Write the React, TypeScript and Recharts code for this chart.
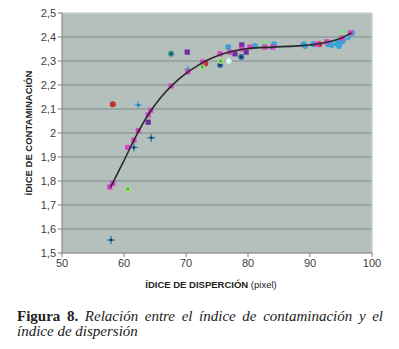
import { ScatterChart, Scatter, XAxis, YAxis, ZAxis, CartesianGrid, ReferenceLine } from 'recharts';

// x = índice de dispersión (pixel), y = índice de contaminación
const magentaPts = [
  { x: 57.7, y: 1.775 }, { x: 58.2, y: 1.79 }, { x: 60.6, y: 1.94 }, { x: 61.6, y: 1.97 },
  { x: 62.3, y: 2.01 }, { x: 63.9, y: 2.075 }, { x: 64.3, y: 2.095 }, { x: 67.6, y: 2.196 },
  { x: 70.3, y: 2.255 }, { x: 72.7, y: 2.296 }, { x: 75.5, y: 2.33 }, { x: 77.1, y: 2.337 },
  { x: 79.0, y: 2.35 }, { x: 80.3, y: 2.358 }, { x: 82.7, y: 2.358 }, { x: 84.0, y: 2.358 },
  { x: 91.1, y: 2.37 }, { x: 92.7, y: 2.38 }, { x: 95.2, y: 2.396 }, { x: 96.5, y: 2.417 },
];
const purplePts = [
  { x: 63.9, y: 2.045 }, { x: 70.2, y: 2.337 }, { x: 77.9, y: 2.33 }, { x: 79.0, y: 2.367 }, { x: 79.7, y: 2.337 },
];
const darkCrossPts = [{ x: 57.9, y: 1.554 }, { x: 61.6, y: 1.94 }, { x: 64.4, y: 1.98 }];
const lightCrossPts = [{ x: 62.3, y: 2.117 }, { x: 70.3, y: 2.265 }];
const tealDotPts = [{ x: 67.6, y: 2.33 }];
const navyDotPts = [{ x: 75.5, y: 2.283 }, { x: 78.9, y: 2.317 }];
const redDotPts = [{ x: 58.2, y: 2.12 }, { x: 73.1, y: 2.29 }, { x: 91.5, y: 2.37 }];
const greenDotPts = [{ x: 60.6, y: 1.767 }, { x: 72.6, y: 2.275 }, { x: 75.6, y: 2.3 }];
const cyanDiamondPts = [{ x: 76.9, y: 2.3 }];
const blueDotPts = [
  { x: 76.8, y: 2.358 }, { x: 81.1, y: 2.363 }, { x: 84.2, y: 2.37 }, { x: 89.0, y: 2.37 },
  { x: 89.2, y: 2.363 }, { x: 90.5, y: 2.37 }, { x: 92.9, y: 2.37 }, { x: 93.5, y: 2.367 },
  { x: 94.4, y: 2.375 }, { x: 94.5, y: 2.37 }, { x: 94.7, y: 2.362 }, { x: 95.0, y: 2.38 },
  { x: 95.3, y: 2.383 }, { x: 96.1, y: 2.4 }, { x: 96.8, y: 2.417 },
];
const greenSquarePts = [{ x: 82.6, y: 2.367 }, { x: 95.5, y: 2.413 }];

// trend curve
const trendPts = [
  { x: 57.8, y: 1.772 }, { x: 60, y: 1.885 }, { x: 62, y: 1.99 }, { x: 64, y: 2.08 },
  { x: 66, y: 2.15 }, { x: 68, y: 2.205 }, { x: 70, y: 2.248 }, { x: 72, y: 2.283 },
  { x: 74, y: 2.31 }, { x: 76, y: 2.33 }, { x: 78, y: 2.344 }, { x: 80, y: 2.352 },
  { x: 84, y: 2.358 }, { x: 88, y: 2.363 }, { x: 91, y: 2.37 }, { x: 93, y: 2.38 },
  { x: 95, y: 2.395 }, { x: 96.7, y: 2.417 },
];

const xTicks = [50, 60, 70, 80, 90, 100];
const yTicks = [1.5, 1.6, 1.7, 1.8, 1.9, 2, 2.1, 2.2, 2.3, 2.4, 2.5];

type Kind = 'square' | 'hollow' | 'circle' | 'cross' | 'diamond' | 'none';

function marker(kind: Kind, color: string, inner?: string) {
  return (p: any) => {
    const { cx, cy } = p;
    if (kind === 'none' || cx == null) return <g />;
    if (kind === 'square')
      return <rect x={cx - 2.6} y={cy - 2.6} width={5.2} height={5.2} fill={color} />;
    if (kind === 'hollow')
      return <rect x={cx - 3} y={cy - 3} width={6} height={6} fill="none" stroke={color} strokeWidth={1.5} />;
    if (kind === 'circle')
      return (
        <g>
          <circle cx={cx} cy={cy} r={3} fill={color} />
          {inner && <circle cx={cx} cy={cy} r={1.4} fill={inner} />}
        </g>
      );
    if (kind === 'diamond')
      return <path d={`M${cx},${cy - 3.5}L${cx + 3.5},${cy}L${cx},${cy + 3.5}L${cx - 3.5},${cy}Z`} fill={color} />;
    return (
      <g stroke={color} strokeWidth={1.3}>
        <line x1={cx - 4} y1={cy} x2={cx + 4} y2={cy} />
        <line x1={cx} y1={cy - 4} x2={cx} y2={cy + 4} />
        <circle cx={cx} cy={cy} r={1.5} fill={inner || color} stroke="none" />
      </g>
    );
  };
}

const tickStyle = { fontFamily: 'Liberation Sans, Arial, sans-serif', fontSize: 11, fill: '#404040' };
const titleStyle = { fontFamily: 'Liberation Sans, Arial, sans-serif', fontSize: 9.5, fontWeight: 700, fill: '#222' };
const captionFont = {
  fontFamily: '"Liberation Serif", "DejaVu Serif", serif',
  fontSize: 15,
  lineHeight: '15px',
  color: '#222',
};

export default function App() {
  return (
    <div style={{ position: 'absolute', left: 0, top: 0, width: 399, height: 349, background: '#fff' }}>
      <ScatterChart width={399} height={300} margin={{ top: 13, right: 27, bottom: 17, left: 22 }}>
        <CartesianGrid
          vertical={false}
          horizontalValues={yTicks.slice(1, -1)}
          fill="#b5c0bc"
          stroke="#7f8a87"
          strokeWidth={1.2}
        />
        <XAxis
          type="number"
          dataKey="x"
          domain={[50, 100]}
          ticks={xTicks}
          height={30}
          stroke="#7a7a7a"
          tickSize={4}
          tick={tickStyle}
          label={{
            content: (p: any) => (
              <text x={211} y={p.viewBox.y + 35} textAnchor="middle" {...titleStyle}>
                ÍDICE DE DISPERCIÓN <tspan fontWeight={400}>(pixel)</tspan>
              </text>
            ),
          }}
        />
        <YAxis
          type="number"
          dataKey="y"
          domain={[1.5, 2.5]}
          ticks={yTicks}
          width={40}
          stroke="#7a7a7a"
          tickSize={4}
          tick={tickStyle}
          tickFormatter={(v: number) => String(Math.round(v * 10) / 10).replace('.', ',')}
          label={{
            content: (p: any) => {
              const cy = p.viewBox.y + p.viewBox.height / 2;
              return (
                <text x={28} y={cy} transform={`rotate(-90 28 ${cy})`} textAnchor="middle" dominantBaseline="central" {...titleStyle}>
                  ÍDICE DE CONTAMINACIÓN
                </text>
              );
            },
          }}
        />
        <ZAxis range={[30, 30]} />
        <ReferenceLine y={2.5} stroke="#ccd3d0" strokeWidth={1.5} />
        <ReferenceLine x={100} stroke="#ccd3d0" strokeWidth={1.5} />
        <Scatter data={darkCrossPts} shape={marker('cross', '#2a7fa6', '#1b3f6b')} isAnimationActive={false} />
        <Scatter data={lightCrossPts} shape={marker('cross', '#3eb0e0', '#2a7fa6')} isAnimationActive={false} />
        <Scatter data={tealDotPts} shape={marker('circle', '#2f9a8e', '#1b3f6b')} isAnimationActive={false} />
        <Scatter data={navyDotPts} shape={marker('circle', '#2a6f9a', '#1b2f6b')} isAnimationActive={false} />
        <Scatter data={redDotPts} shape={marker('circle', '#c0302c')} isAnimationActive={false} />
        <Scatter data={greenDotPts} shape={marker('circle', '#a8e05a', '#3a9a9a')} isAnimationActive={false} />
        <Scatter data={cyanDiamondPts} shape={marker('diamond', '#d4f6f6')} isAnimationActive={false} />
        <Scatter data={purplePts} shape={marker('square', '#6d2f9c')} isAnimationActive={false} />
        <Scatter data={blueDotPts} shape={marker('circle', '#3aa2d6')} isAnimationActive={false} />
        <Scatter data={greenSquarePts} shape={marker('hollow', '#7fe08a')} isAnimationActive={false} />
        <Scatter data={magentaPts} shape={marker('square', '#d843c4')} isAnimationActive={false} />
        <Scatter
          data={trendPts}
          fill="#2a2a2a"
          line={{ stroke: '#2a2a2a', strokeWidth: 1.6 }}
          lineJointType="monotoneX"
          shape={marker('none', '#000')}
          isAnimationActive={false}
        />
      </ScatterChart>
      <div style={{ position: 'absolute', left: 17, top: 309, width: 366, ...captionFont }}>
        <div style={{ textAlign: 'justify', textAlignLast: 'justify', whiteSpace: 'nowrap' }}>
          <b>Figura 8.</b> <i>Relación entre el índice de contaminación y el</i>
        </div>
        <div>
          <i>índice de dispersión</i>
        </div>
      </div>
    </div>
  );
}
